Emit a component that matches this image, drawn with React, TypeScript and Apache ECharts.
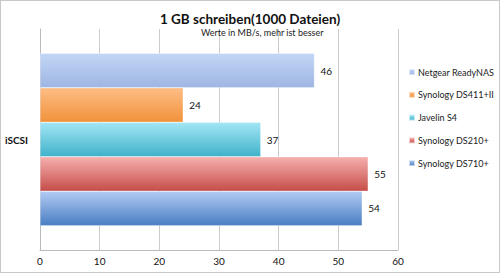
import React, { useEffect, useRef } from "react";
import * as echarts from "echarts";

const categories = ["iSCSI"];
const seriesNames = ["Netgear ReadyNAS", "Synology DS411+II", "Javelin S4", "Synology DS210+", "Synology DS710+"];
const seriesValues = [46, 24, 37, 55, 54];
const xTicks = [0, 10, 20, 30, 40, 50, 60];
const gradients: [string, string, string][] = [
  ["#c2d6f6", "#9eb6e2", "#aac3ef"],
  ["#fdbd86", "#f1923a", "#f7a055"],
  ["#a3e6f5", "#3fb2c9", "#5cc8de"],
  ["#f5b0ae", "#c64d49", "#e07b78"],
  ["#b1cbf3", "#4a7ec3", "#6f9ae0"],
];

export default function App() {
  const ref = useRef<HTMLDivElement>(null);
  useEffect(() => {
    document.body.style.margin = "0";
    const chart = echarts.init(ref.current!, null, { renderer: "svg" });
    const font = "Lato, 'Open Sans', sans-serif";
    chart.setOption({
      animation: false,
      backgroundColor: "#ffffff",
      textStyle: { fontFamily: font },
      title: [
        {
          text: "1 GB schreiben(1000 Dateien)",
          left: "center",
          top: 6,
          textStyle: { fontSize: 13.5, fontWeight: "bold", color: "#111", fontFamily: font },
        },
        {
          text: "Werte in MB/s, mehr ist besser",
          left: 195,
          top: 22,
          textStyle: { fontSize: 9, fontWeight: "normal", color: "#222", fontFamily: font },
        },
      ],
      legend: {
        orient: "vertical",
        left: 402,
        top: 61,
        itemWidth: 6,
        itemHeight: 6,
        itemGap: 12.75,
        icon: "rect",
        textStyle: { fontSize: 9, lineHeight: 10, color: "#222", fontFamily: font, padding: [0, 0, 0, -2] },
        data: seriesNames,
      },
      grid: { left: 39, right: 101, top: 28, bottom: 22, containLabel: false },
      xAxis: {
        type: "value",
        min: 0,
        max: 60,
        interval: 10,
        axisLine: { show: true, lineStyle: { color: "#bbbbbb" } },
        axisTick: { show: false },
        splitLine: { show: true, lineStyle: { color: "#cccccc" } },
        axisLabel: {
          fontSize: 10,
          color: "#111",
          margin: 6,
          formatter: (v: number) => (xTicks.includes(v) ? String(v) : ""),
        },
      },
      yAxis: {
        type: "category",
        data: categories,
        inverse: true,
        axisLine: { show: true, lineStyle: { color: "#bbbbbb" } },
        axisTick: { show: false },
        axisLabel: { fontSize: 10, fontWeight: "bold", color: "#111", margin: 12 },
      },
      series: seriesNames.map((name, i) => ({
        name,
        type: "bar",
        data: [seriesValues[i]],
        barGap: "0%",
        barCategoryGap: "22%",
        itemStyle: {
          color: new echarts.graphic.LinearGradient(0, 0, 0, 1, [
            { offset: 0, color: gradients[i][0] },
            { offset: 1, color: gradients[i][1] },
          ]),
          borderColor: "rgba(255,255,255,0.6)",
          borderWidth: 0.5,
        },
        label: { show: true, position: "right", distance: 6, fontSize: 10, color: "#111", fontFamily: font },
      })),
      color: gradients.map((g) => g[2]),
    });
    return () => chart.dispose();
  }, []);
  return (
    <div
      style={{
        position: "fixed",
        left: 0,
        top: 0,
        width: 500,
        height: 273,
        boxSizing: "border-box",
        border: "1px solid #c8c8c8",
      }}
    >
      <div ref={ref} style={{ width: 498, height: 271 }} />
    </div>
  );
}
